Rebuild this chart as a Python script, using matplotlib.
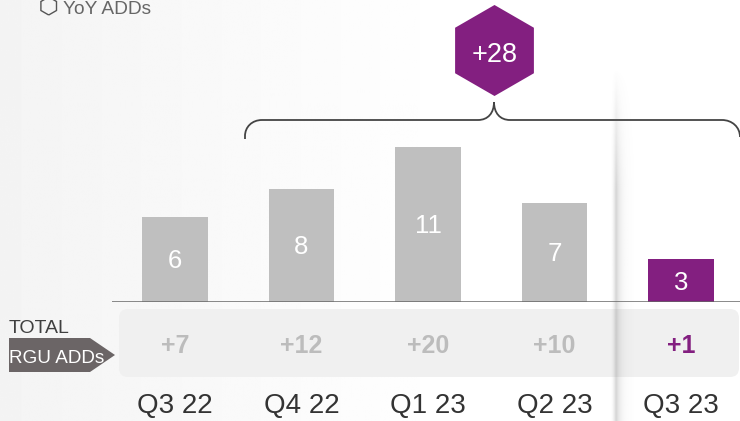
import numpy as np
import matplotlib.pyplot as plt
from matplotlib.patches import Polygon, FancyBboxPatch, PathPatch, RegularPolygon
from matplotlib.path import Path
from matplotlib.transforms import blended_transform_factory

# data
quarters = ['Q3 22', 'Q4 22', 'Q1 23', 'Q2 23', 'Q3 23']
net_adds = [6, 8, 11, 7, 3]
rgu_adds = ['+7', '+12', '+20', '+10', '+1']
yoy_total = '+28'

GREY = '#bfbfbf'
PURPLE = '#831f80'
plt.rcParams['font.family'] = ['Liberation Sans', 'DejaVu Sans']

W, H = 740, 421
fig = plt.figure(figsize=(W / 100, H / 100), dpi=100)

# soft background gradient on the left
bg = fig.add_axes([0, 0, 1, 1], zorder=0)
grad = np.linspace(0.955, 1.0, 256)
bg.imshow(np.tile(grad, (2, 1)), cmap='gray', vmin=0, vmax=1,
          extent=[0, 460, H, 0], aspect='auto')
bg.set_xlim(0, W)
bg.set_ylim(H, 0)
bg.axis('off')

# bar axes: baseline at y=301.7 px, bars centred 126.5 px apart starting at 175
base_px = 301.7
step = 126.5
px_per_unit = 14.08
ax = fig.add_axes([112 / W, (H - base_px) / H, 1 - 112 / W, base_px / H], zorder=1)
ax.patch.set_alpha(0)
x = np.arange(len(quarters))
colors = [GREY] * (len(quarters) - 1) + [PURPLE]
ax.bar(x, net_adds, width=0.52, color=colors)
ax.axhline(0, color='#666666', lw=1.8)
ax.set_xlim(-(175 - 112) / step, (W - 175) / step)
ax.set_ylim(0, base_px / px_per_unit)
ax.axis('off')
for i, v in enumerate(net_adds):
    ax.annotate(str(v), (i, v / 2), xytext=(0, -6.5), textcoords='offset points',
                ha='center', va='baseline', color='white', fontsize=18.5)

# overlay in pixel coordinates
ov = fig.add_axes([0, 0, 1, 1], zorder=3)
ov.set_xlim(0, W)
ov.set_ylim(H, 0)
ov.patch.set_alpha(0)
ov.axis('off')
tr = blended_transform_factory(ax.transData, ov.transData)

# legend
ov.add_patch(RegularPolygon((48.7, 6), 6, radius=9, fill=False, ec='#555555', lw=1))
ov.text(63, 14, 'YoY ADDs', fontsize=13.8, color='#666666', va='baseline')

# total RGU row
ov.add_patch(FancyBboxPatch((119, 309), 620, 68, boxstyle='round,pad=0,rounding_size=9',
                            fc='#f0f0f0', ec='none'))
ov.text(9, 333, 'TOTAL', fontsize=14, color='#404040', va='baseline')
ov.add_patch(Polygon([(9, 338), (90, 338), (115, 355), (90, 372), (9, 372)],
                     closed=True, fc='#6b6566', ec='none'))
ov.text(9, 363, 'RGU ADDs', fontsize=13.6, color='white', va='baseline')
for i, s in enumerate(rgu_adds):
    c = PURPLE if i == len(rgu_adds) - 1 else '#bcbcbc'
    ov.text(i, 353, s, transform=tr, ha='center', va='baseline',
            fontsize=18, fontweight='bold', color=c)

# quarter labels
for i, q in enumerate(quarters):
    ov.text(i, 413, q, transform=tr, ha='center', va='baseline', fontsize=20, color='#333333')

# brace
verts = [(245, 139), (245, 136), (245, 127), (252, 120), (262, 120), (478, 120),
         (488, 120), (494, 113), (494, 102), (494, 113), (500, 120), (510, 120),
         (722, 120), (732, 120), (740, 127), (740, 137)]
codes = [Path.MOVETO, Path.LINETO] + [Path.CURVE4] * 3 + [Path.LINETO] + [Path.CURVE4] * 6 + \
        [Path.LINETO] + [Path.CURVE4] * 3
ov.add_patch(PathPatch(Path(verts, codes), fill=False, ec='#444444', lw=1.3))

# YoY hexagon
ov.add_patch(RegularPolygon((494.5, 50.5), 6, radius=45.5, fc=PURPLE, ec='none'))
ov.text(494.5, 62, yoy_total, ha='center', va='baseline', fontsize=19.5, color='white')

# vertical shadow
xs = np.linspace(610, 634, 48)
ys = np.linspace(68, H, 200)
ax_prof = np.where(xs < 616, np.clip((xs - 610) / 6, 0, 1) ** 2, np.exp(-(xs - 616) / 4.5))
ay_prof = np.clip((ys - 68) / 120, 0, 1)
rgba = np.zeros((len(ys), len(xs), 4))
rgba[..., :3] = 0.4
rgba[..., 3] = 0.28 * np.outer(ay_prof, ax_prof)
ov.imshow(rgba, extent=[610, 634, H, 68], aspect='auto', zorder=5)
ov.set_xlim(0, W)
ov.set_ylim(H, 0)

fig.savefig('out.png', dpi=100)
